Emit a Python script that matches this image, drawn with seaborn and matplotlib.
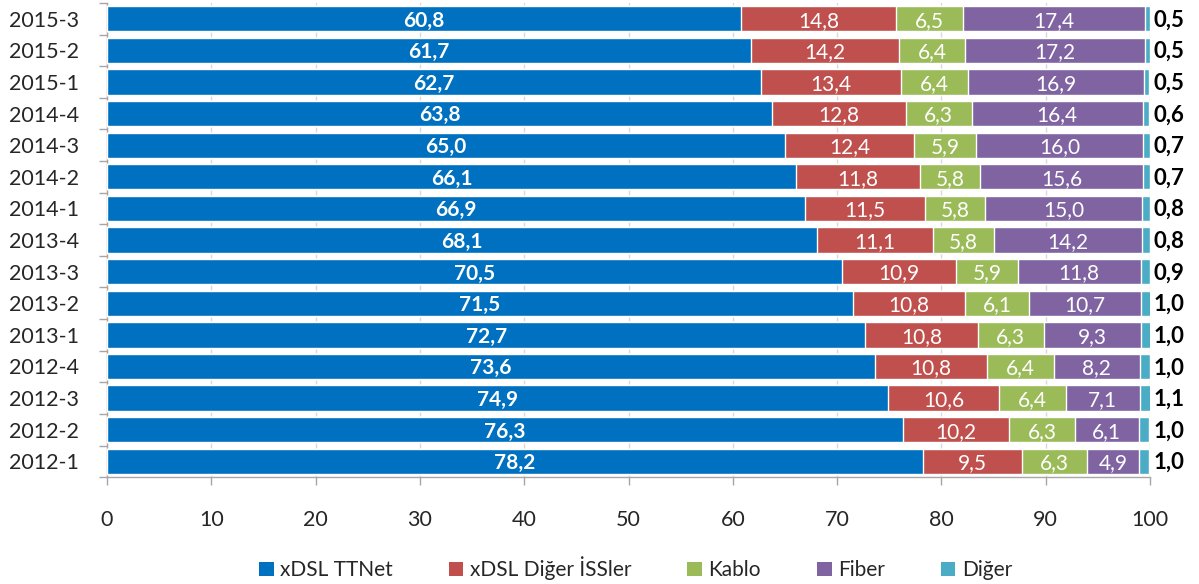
import numpy as np
import pandas as pd
import matplotlib
matplotlib.use("Agg")
import matplotlib.pyplot as plt
from matplotlib.patches import Patch
from matplotlib.ticker import MultipleLocator, FixedLocator
import seaborn as sns

# Quarterly market shares (%), top row first
periods = ["2015-3", "2015-2", "2015-1", "2014-4", "2014-3", "2014-2", "2014-1",
           "2013-4", "2013-3", "2013-2", "2013-1", "2012-4", "2012-3", "2012-2", "2012-1"]
xdsl_ttnet = [60.8, 61.7, 62.7, 63.8, 65.0, 66.1, 66.9, 68.1, 70.5, 71.5, 72.7, 73.6, 74.9, 76.3, 78.2]
xdsl_diger = [14.8, 14.2, 13.4, 12.8, 12.4, 11.8, 11.5, 11.1, 10.9, 10.8, 10.8, 10.8, 10.6, 10.2, 9.5]
kablo = [6.5, 6.4, 6.4, 6.3, 5.9, 5.8, 5.8, 5.8, 5.9, 6.1, 6.3, 6.4, 6.4, 6.3, 6.3]
fiber = [17.4, 17.2, 16.9, 16.4, 16.0, 15.6, 15.0, 14.2, 11.8, 10.7, 9.3, 8.2, 7.1, 6.1, 4.9]
diger = [0.5, 0.5, 0.5, 0.6, 0.7, 0.7, 0.8, 0.8, 0.9, 1.0, 1.0, 1.0, 1.1, 1.0, 1.0]

series_names = ["xDSL TTNet", "xDSL Diğer İSSler", "Kablo", "Fiber", "Diğer"]
series_vals = [xdsl_ttnet, xdsl_diger, kablo, fiber, diger]
colors = ["#0070C0", "#C0504D", "#9BBB59", "#8064A2", "#4BACC6"]

sns.set_theme(style="white")
plt.rcParams["font.family"] = ["Lato", "DejaVu Sans"]

df = pd.DataFrame({"period": periods})
for name, vals in zip(series_names, series_vals):
    df[name] = vals
cum = df[series_names].cumsum(axis=1)

fig = plt.figure(figsize=(11.99, 5.84), dpi=100)
ax = fig.add_axes([0.0892, 0.183, 0.8700, 0.812])

# Stacked bars: draw cumulative totals from the outermost segment inwards
for i in range(len(series_names) - 1, -1, -1):
    sns.barplot(x=cum[series_names[i]], y=df["period"], order=periods,
                color=colors[i], saturation=1, width=0.8, orient="h",
                ax=ax, zorder=3)

# Segment labels
for r, p in enumerate(periods):
    left = 0.0
    for i, name in enumerate(series_names):
        v = df.loc[r, name]
        label = f"{v:.1f}".replace(".", ",")
        if i == len(series_names) - 1:
            ax.text(100.3, r + 0.04, label, ha="left", va="center", fontsize=16,
                    fontweight="bold", color="black", zorder=5)
        else:
            ax.text(left + v / 2, r + 0.06, label, ha="center", va="center",
                    fontsize=15, color="white",
                    fontweight="bold" if i == 0 else "normal", zorder=5)
        left += v

ax.set_xlim(0, 100)
ax.set_ylim(len(periods) - 0.5, -0.5)
ax.xaxis.set_major_locator(MultipleLocator(10))
ax.set_xlabel("")
ax.set_ylabel("")
ax.grid(axis="x", color="#D9D9D9", linewidth=1, zorder=0)
ax.grid(axis="y", visible=False)
ax.set_axisbelow(True)

for side in ["top", "right"]:
    ax.spines[side].set_visible(False)
for side in ["left", "bottom"]:
    ax.spines[side].set_color("#A6A6A6")
    ax.spines[side].set_linewidth(1)

ax.tick_params(axis="x", which="major", length=6, width=1, color="#A6A6A6",
               direction="out", bottom=True, labelsize=15.5, pad=18)
ax.tick_params(axis="y", which="major", length=0, labelsize=15.5, pad=20)
ax.yaxis.set_minor_locator(FixedLocator(np.arange(-0.5, len(periods), 1)))
ax.tick_params(axis="y", which="minor", length=6, width=1, color="#A6A6A6",
               direction="out", left=True)

handles = [Patch(facecolor=c, edgecolor="none") for c in colors]
fig.legend(handles, series_names, loc="center", bbox_to_anchor=(0.53, 0.027),
           ncol=5, frameon=False, fontsize=15, handlelength=0.7, handleheight=0.7,
           handletextpad=0.3, columnspacing=2.7)

fig.savefig("out.png", dpi=100)
